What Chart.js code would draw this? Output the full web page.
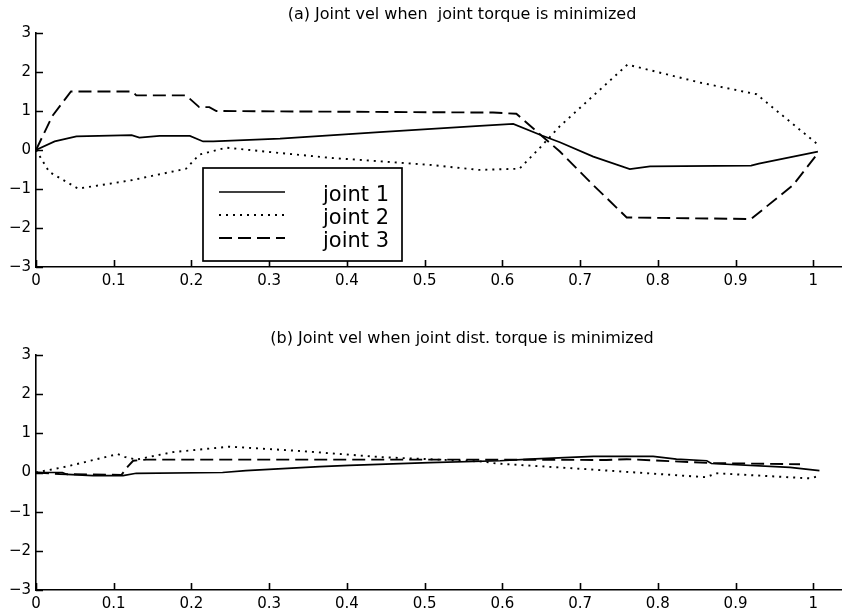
<!DOCTYPE html>
<html>
<head>
<meta charset="utf-8">
<script src="https://cdn.jsdelivr.net/npm/chart.js@4.4.0/dist/chart.umd.min.js"></script>
<style>
  html, body { margin: 0; padding: 0; background: #ffffff; }
  body { width: 842px; height: 613px; position: relative; overflow: hidden; }
  .panel { position: absolute; left: 0; width: 842px; }
  #panelA { top: 0; height: 300px; }
  #panelB { top: 322px; height: 291px; }
</style>
</head>
<body>
<div class="panel" id="panelA"><canvas id="velTorque" width="842" height="300"></canvas></div>
<div class="panel" id="panelB"><canvas id="velDistTorque" width="842" height="291"></canvas></div>
<script>
const xTicks = [0, 0.1, 0.2, 0.3, 0.4, 0.5, 0.6, 0.7, 0.8, 0.9, 1];
const xTickLabels = ["0", "0.1", "0.2", "0.3", "0.4", "0.5", "0.6", "0.7", "0.8", "0.9", "1"];
const yTicks = [-3, -2, -1, 0, 1, 2, 3];
const yTickLabels = ["\u22123", "\u22122", "\u22121", "0", "1", "2", "3"];
const seriesLabels = ["joint 1", "joint 2", "joint 3"];

// (a) joint torque minimized
const aJoint1T = [0, 0.024, 0.052, 0.123, 0.133, 0.159, 0.198, 0.215, 0.228, 0.314, 0.442, 0.571, 0.614, 0.65, 0.674, 0.717, 0.764, 0.79, 0.92, 0.93, 1.006];
const aJoint1V = [0, 0.22, 0.35, 0.38, 0.32, 0.36, 0.36, 0.22, 0.22, 0.29, 0.46, 0.62, 0.67, 0.38, 0.2, -0.17, -0.49, -0.42, -0.4, -0.35, -0.04];
const aJoint2T = [0, 0.017, 0.054, 0.09, 0.124, 0.193, 0.21, 0.245, 0.305, 0.378, 0.506, 0.57, 0.622, 0.648, 0.674, 0.761, 0.854, 0.927, 1.006];
const aJoint2V = [0, -0.56, -0.99, -0.88, -0.77, -0.48, -0.12, 0.06, -0.06, -0.2, -0.38, -0.51, -0.48, 0.05, 0.61, 2.19, 1.73, 1.43, 0.14];
const aJoint3T = [0, 0.021, 0.045, 0.124, 0.129, 0.193, 0.21, 0.223, 0.232, 0.588, 0.618, 0.674, 0.717, 0.76, 0.92, 0.974, 1.006];
const aJoint3V = [0, 0.87, 1.5, 1.5, 1.4, 1.4, 1.1, 1.1, 1.0, 0.96, 0.93, -0.04, -0.9, -1.73, -1.77, -0.9, -0.08];

// (b) joint dist. torque minimized
const bJoint1T = [0, 0.034, 0.04, 0.073, 0.112, 0.129, 0.24, 0.27, 0.365, 0.403, 0.506, 0.597, 0.635, 0.717, 0.794, 0.824, 0.863, 0.869, 0.97, 1.008];
const bJoint1V = [0, 0, -0.05, -0.08, -0.08, -0.02, 0, 0.05, 0.15, 0.18, 0.25, 0.3, 0.34, 0.41, 0.41, 0.34, 0.3, 0.23, 0.13, 0.05];
const bJoint2T = [0, 0.039, 0.105, 0.114, 0.129, 0.176, 0.249, 0.339, 0.446, 0.575, 0.592, 0.712, 0.862, 0.875, 0.996, 1.005];
const bJoint2V = [0, 0.15, 0.47, 0.4, 0.33, 0.52, 0.66, 0.55, 0.39, 0.28, 0.23, 0.08, -0.12, -0.02, -0.15, -0.1];
const bJoint3T = [0, 0.03, 0.11, 0.118, 0.125, 0.142, 0.5, 0.734, 0.76, 0.87, 0.983];
const bJoint3V = [0, -0.04, -0.06, 0.15, 0.3, 0.33, 0.33, 0.32, 0.34, 0.24, 0.21];

const ink = "#000000";
const fontFamily = "'DejaVu Sans', sans-serif";
const lineStyles = [
  { dash: [], width: 1.7 },
  { dash: [2, 5], width: 1.9 },
  { dash: [13, 6], width: 1.9 }
];

function toPoints(ts, vs) {
  return ts.map((t, i) => ({ x: t, y: vs[i] }));
}

const panelTitle = {
  id: "panelTitle",
  afterDraw(chart, args, opts) {
    const c = chart.ctx;
    c.save();
    c.font = "16px " + fontFamily;
    c.fillStyle = ink;
    c.textAlign = "center";
    c.textBaseline = "middle";
    c.fillText(opts.text, opts.x, opts.y);
    c.restore();
  }
};

// matlab puts the tick marks inside the axes
const inwardTicks = {
  id: "inwardTicks",
  afterDraw(chart) {
    const c = chart.ctx;
    const area = chart.chartArea;
    const xs = chart.scales.x;
    const ys = chart.scales.y;
    c.save();
    c.strokeStyle = ink;
    c.lineWidth = 1.6;
    c.beginPath();
    xs.ticks.forEach((t) => {
      const px = Math.round(xs.getPixelForValue(t.value)) + 0.5;
      c.moveTo(px, area.bottom);
      c.lineTo(px, area.bottom - 7);
    });
    ys.ticks.forEach((t) => {
      const py = Math.round(ys.getPixelForValue(t.value)) + 0.5;
      c.moveTo(area.left, py);
      c.lineTo(area.left + 7, py);
    });
    c.stroke();
    c.restore();
  }
};

// boxed legend sitting inside the axes
const boxLegend = {
  id: "boxLegend",
  afterDraw(chart, args, opts) {
    if (!opts.show) {
      return;
    }
    const c = chart.ctx;
    c.save();
    c.fillStyle = "#ffffff";
    c.fillRect(203, 168, 199, 93);
    c.strokeStyle = ink;
    c.lineWidth = 1.7;
    c.strokeRect(203, 168, 199, 93);
    chart.data.datasets.forEach((ds, i) => {
      const y = 192 + i * 23;
      c.beginPath();
      c.setLineDash(ds.borderDash);
      c.lineWidth = ds.borderWidth;
      c.moveTo(219, y);
      c.lineTo(285, y);
      c.stroke();
      c.setLineDash([]);
      c.font = "21px " + fontFamily;
      c.fillStyle = ink;
      c.textAlign = "left";
      c.textBaseline = "alphabetic";
      c.fillText(ds.label, 323, y + 8.5);
    });
    c.restore();
  }
};

function axisBase(labels) {
  return {
    grid: { display: false, drawTicks: false },
    border: { display: true, color: ink, width: 1.6 },
    ticks: {
      color: ink,
      font: { family: fontFamily, size: 15 },
      padding: 5,
      maxRotation: 0,
      autoSkip: false,
      callback: (v, i) => labels[i]
    }
  };
}

function buildPanel(id, titleText, titleY, xAxisHeight, series, withLegend) {
  const ctx = document.getElementById(id).getContext("2d");

  new Chart(ctx, {
    type: "line",
    data: {
      datasets: series.map((s, i) => ({
        label: seriesLabels[i],
        data: toPoints(s[0], s[1]),
        borderColor: ink,
        borderWidth: lineStyles[i].width,
        borderDash: lineStyles[i].dash,
        pointRadius: 0,
        tension: 0,
        fill: false
      }))
    },
    options: {
      responsive: false,
      animation: false,
      events: [],
      layout: { padding: { top: 33, left: 0, right: 0, bottom: 0 } },
      plugins: {
        legend: { display: false },
        tooltip: { enabled: false },
        title: { display: false },
        panelTitle: { text: titleText, x: 462, y: titleY },
        boxLegend: { show: withLegend }
      },
      scales: {
        x: Object.assign(axisBase(xTickLabels), {
          type: "linear",
          min: 0,
          max: 1.037,
          afterBuildTicks: (s) => { s.ticks = xTicks.map((v) => ({ value: v })); },
          afterFit: (s) => { s.height = xAxisHeight; }
        }),
        y: Object.assign(axisBase(yTickLabels), {
          type: "linear",
          min: -3,
          max: 3,
          afterBuildTicks: (s) => { s.ticks = yTicks.map((v) => ({ value: v })); },
          afterFit: (s) => { s.width = 36; }
        })
      }
    },
    plugins: [panelTitle, inwardTicks, boxLegend]
  });
}

document.addEventListener("DOMContentLoaded", () => {
  buildPanel("velTorque", "(a) Joint vel when  joint torque is minimized", 15, 33,
    [[aJoint1T, aJoint1V], [aJoint2T, aJoint2V], [aJoint3T, aJoint3V]], true);
  buildPanel("velDistTorque", "(b) Joint vel when joint dist. torque is minimized", 17, 23,
    [[bJoint1T, bJoint1V], [bJoint2T, bJoint2V], [bJoint3T, bJoint3V]], false);
});
</script>
</body>
</html>
